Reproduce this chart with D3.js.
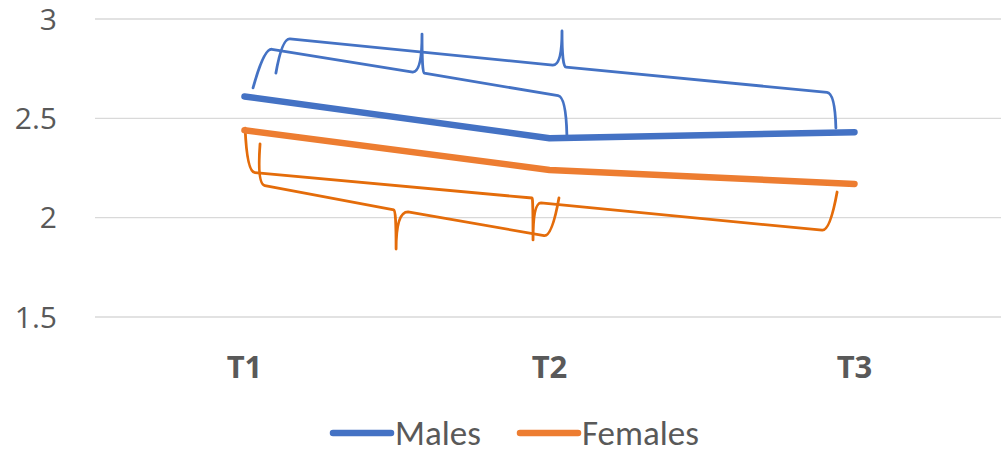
<!DOCTYPE html>
<html>
<head>
<meta charset="utf-8">
<script src="https://cdn.jsdelivr.net/npm/d3@7"></script>
<style>
  html, body { margin: 0; padding: 0; background: #fff; }
  svg { display: block; }
  text { font-family: Carlito, Calibri, Lato, "Liberation Sans", sans-serif; fill: #595959; }
  text.axis { font-family: "Open Sans", "Noto Sans", sans-serif; }
</style>
</head>
<body>
<svg id="chart" width="1001" height="453"></svg>
<script>
// ---- data ----
const categories = ["T1", "T2", "T3"];
const seriesNames = ["Males", "Females"];
const males = [2.61, 2.40, 2.43];
const females = [2.44, 2.24, 2.17];
const yTicks = [1.5, 2, 2.5, 3];
const yTickLabels = ["1.5", "2", "2.5", "3"];
const seriesColors = ["#4472C4", "#ED7D31"];

// brace annotations: points [category index, value] = arm end, corner, cusp-in, tip, cusp-out, corner, arm end
const braceMalesT1T2 = [[0.028, 2.653], [0.064, 2.854], [0.552, 2.733], [0.582, 2.924], [0.589, 2.728], [1.054, 2.607], [1.057, 2.416]];
const braceMalesT1T3 = [[0.103, 2.728], [0.123, 2.904], [1.011, 2.768], [1.041, 2.940], [1.054, 2.758], [1.936, 2.627], [1.939, 2.451]];
const braceFemalesT1T2 = [[0.051, 2.371], [0.041, 2.169], [0.490, 2.039], [0.497, 1.842], [0.536, 2.029], [1.008, 1.903], [1.031, 2.099]];
const braceFemalesT1T3 = [[0.002, 2.451], [0.008, 2.230], [0.943, 2.099], [0.946, 1.888], [0.972, 2.074], [1.920, 1.933], [1.943, 2.129]];
const braceColors = ["#4472C4", "#4472C4", "#E46C0A", "#E46C0A"];

// ---- scales ----
const svg = d3.select("#chart");
const plotLeft = 92, plotRight = 1007;
const x = d3.scalePoint().domain(categories).range([plotLeft, plotRight]).padding(0.5);
const xi = d3.scaleLinear().domain([0, categories.length - 1]).range([x(categories[0]), x(categories[categories.length - 1])]);
const y = d3.scaleLinear().domain([1.5, 3]).range([317, 19]);

// gridlines
svg.append("g").selectAll("line").data(yTicks).join("line")
  .attr("x1", 95).attr("x2", 1001)
  .attr("y1", d => y(d)).attr("y2", d => y(d))
  .attr("stroke", "#D9D9D9").attr("stroke-width", 1.3);

// y tick labels
svg.append("g").selectAll("text").data(yTicks).join("text")
  .attr("class", "axis")
  .attr("x", 57).attr("y", d => y(d) + 10.5)
  .attr("text-anchor", "end")
  .style("font-size", "30px")
  .text((d, i) => yTickLabels[i]);

// x category labels
svg.append("g").selectAll("text").data(categories).join("text")
  .attr("class", "axis")
  .attr("x", d => x(d)).attr("y", 378)
  .attr("text-anchor", "middle")
  .style("font-size", "31px").style("font-weight", "bold")
  .text(d => d);

// braces
function bracePath(pts) {
  const p = pts.map(d => [xi(d[0]), y(d[1])]);
  const [A, K, C, T, D, K2, F] = p;
  const r = 8;
  const unit = (a, b) => { const dx = b[0] - a[0], dy = b[1] - a[1]; const l = Math.hypot(dx, dy); return [dx / l, dy / l]; };
  const u1 = unit(K, C), u2 = unit(K2, D);
  const P1 = [K[0] + u1[0] * r, K[1] + u1[1] * r];
  const P2 = [K2[0] + u2[0] * r, K2[1] + u2[1] * r];
  return `M${A} Q${K} ${P1} L${C} Q${T[0]},${C[1]} ${T} Q${T[0]},${D[1]} ${D} L${P2} Q${K2} ${F}`;
}
const braces = [braceMalesT1T2, braceMalesT1T3, braceFemalesT1T2, braceFemalesT1T3];
svg.append("g").selectAll("path").data(braces).join("path")
  .attr("d", d => bracePath(d))
  .attr("fill", "none")
  .attr("stroke", (d, i) => braceColors[i])
  .attr("stroke-width", 2.8)
  .attr("stroke-linejoin", "round")
  .attr("stroke-linecap", "round");

// series lines
const line = d3.line().x((d, i) => x(categories[i])).y(d => y(d));
const series = [males, females];
svg.append("g").selectAll("path").data(series).join("path")
  .attr("d", d => line(d))
  .attr("fill", "none")
  .attr("stroke", (d, i) => seriesColors[i])
  .attr("stroke-width", 6.5)
  .attr("stroke-linecap", "round")
  .attr("stroke-linejoin", "round");

// legend
const legendItems = [{ x: 333 }, { x: 520 }];
const lg = svg.append("g").selectAll("g").data(seriesNames).join("g")
  .attr("transform", (d, i) => `translate(${legendItems[i].x},0)`);
lg.append("line")
  .attr("x1", 0).attr("x2", 58).attr("y1", 433).attr("y2", 433)
  .attr("stroke", (d, i) => seriesColors[i]).attr("stroke-width", 6.5)
  .attr("stroke-linecap", "round");
lg.append("text")
  .attr("x", 62).attr("y", 445)
  .style("font-size", "35px")
  .text(d => d);
</script>
</body>
</html>
